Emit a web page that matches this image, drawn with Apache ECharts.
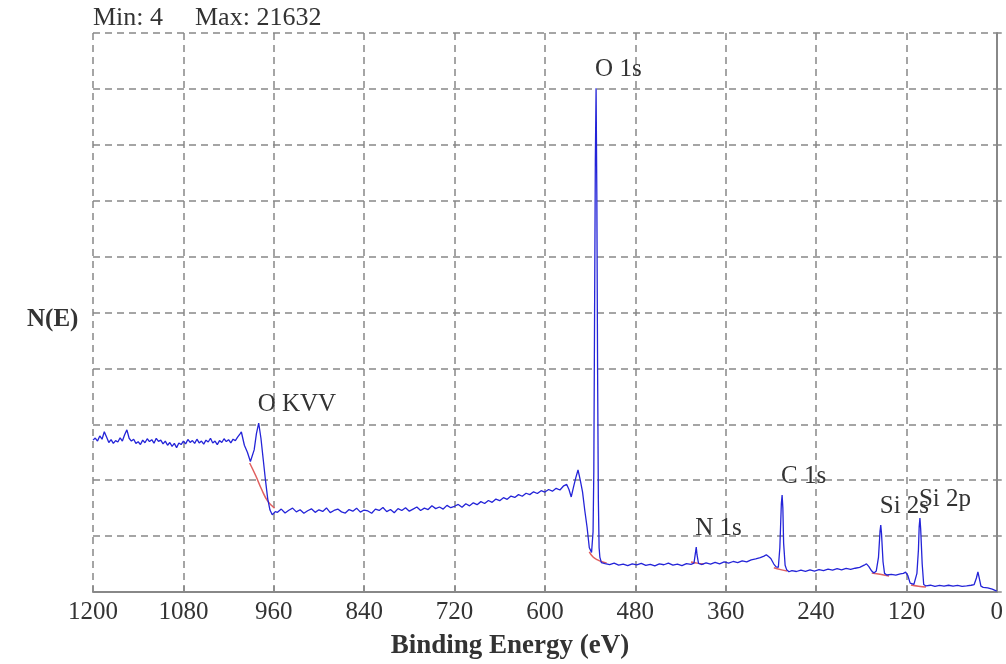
<!DOCTYPE html>
<html>
<head>
<meta charset="utf-8">
<script src="https://cdn.jsdelivr.net/npm/echarts@6/dist/echarts.min.js"></script>
<style>
  html, body { margin: 0; padding: 0; background: #fff; }
  #chart { width: 1006px; height: 664px; }
</style>
</head>
<body>
<div id="chart"></div>
<script>
// survey spectrum, [binding energy (eV), counts]
var highRegion = [
  [1200,6520],[1197,6610],[1194,6480],[1191,6700],[1188,6560],[1185,6880],[1182,6650],[1179,6420],
  [1176,6540],[1173,6380],[1170,6500],[1167,6440],[1164,6620],[1161,6480],[1158,6750],[1155,6960],
  [1152,6600],[1149,6480],[1146,6560],[1143,6380],[1140,6450],[1137,6330],[1134,6520],[1131,6410],
  [1128,6580],[1125,6460],[1122,6540],[1119,6390],[1116,6600],[1113,6470],[1110,6520],[1107,6360],
  [1104,6480],[1101,6300],[1098,6420],[1095,6250],[1092,6380],[1089,6200],[1086,6400],[1083,6330],
  [1080,6480],[1077,6360],[1074,6550],[1071,6420],[1068,6500],[1065,6380],[1062,6560],[1059,6400],
  [1056,6480],[1053,6350],[1050,6520],[1047,6440],[1044,6600],[1041,6400],[1038,6480],[1035,6330],
  [1032,6500],[1029,6420],[1026,6580],[1023,6460],[1020,6540],[1017,6400],[1014,6560],[1011,6500],
  [1008,6650],[1005,6780],[1003,6870],[999,6300],[995,6000],[991,5600],[989,5560],[986,6100],
  [983,6800],[980,7255],[977,6600],[974,5700],[971,4800],[968,4000],[965,3520],[962,3320],[958,3450]
];
var midRegion = [
  [955,3420],[950,3560],[945,3390],[940,3510],[935,3600],[930,3440],[925,3530],[920,3380],
  [915,3490],[910,3570],[905,3420],[900,3530],[895,3460],[890,3610],[885,3410],[880,3500],
  [875,3560],[870,3440],[865,3390],[860,3540],[855,3470],[850,3600],[845,3430],[840,3520],
  [835,3480],[830,3380],[825,3560],[820,3500],[815,3630],[810,3450],[805,3540],[800,3400],
  [795,3580],[790,3500],[785,3620],[780,3470],[775,3560],[770,3650],[765,3500],[760,3600],
  [755,3540],[750,3700],[745,3580],[740,3650],[735,3560],[730,3720],[725,3620],[720,3680],
  [715,3760],[710,3640],[705,3790],[700,3700],[695,3830],[690,3750],[685,3880],[680,3800],
  [675,3930],[670,3850],[665,3990],[660,3920],[655,4050],[650,3980],[645,4120],[640,4060],
  [635,4180],[630,4110],[625,4240],[620,4180],[615,4300],[610,4230],[605,4350],[600,4290],
  [595,4400],[590,4330],[585,4450],[580,4380],[575,4560],[571,4620],[568,4400],[565,4080],
  [562,4500],[559,4900],[556,5240],[553,4800],[550,4300],[547,3500],[544,2790],[541,1900],
  [538,1700],[536,2600],[535,5200],[534,12000],[533,18500],[532,21632],[531,17000],[530,9500],
  [529,4000],[528,1900],[527,1500],[525,1260]
];
var lowRegion = [
  [520,1220],[514,1180],[508,1240],[502,1150],[496,1200],[490,1130],[484,1210],[478,1160],
  [472,1230],[466,1140],[460,1190],[454,1120],[448,1210],[442,1170],[436,1240],[430,1150],
  [424,1200],[418,1130],[412,1220],[406,1190],[402,1240],[400,1700],[399,1930],[398,1600],
  [396,1230],[392,1180],[386,1250],[380,1200],[374,1270],[368,1210],[362,1290],[356,1240],
  [350,1310],[344,1260],[338,1340],[332,1290],[326,1380],[320,1420],[314,1480],[309,1540],
  [306,1600],[303,1520],[300,1440],[296,1200],[293,1080],[290,1060],[288,1900],[286,3800],
  [285,4164],[284,3600],[283,2100],[281,1150],[279,960],[276,870],[272,920],[266,880],
  [260,940],[254,890],[248,950],[242,900],[236,960],[230,920],[224,980],[218,940],
  [212,1000],[206,950],[200,1010],[194,970],[188,1020],[182,1060],[176,1150],[173,1210],
  [170,1100],[166,900],[163,820],[160,900],[157,1500],[155,2600],[154,2876],[153,2500],
  [151,1300],[149,800],[146,730],[140,760],[134,720],[128,780],[124,800],[121,850],
  [118,700],[115,380],[113,300],[110,330],[106,800],[104,1800],[103,2800],[102,3177],
  [101,2700],[99,1200],[97,320],[94,260],[88,290],[82,240],[76,280],[70,250],
  [64,290],[58,250],[52,280],[46,240],[40,260],[34,290],[30,320],[27,600],
  [25,860],[23,560],[21,250],[18,200],[12,180],[6,120],[0,40]
];
// fitted backgrounds under the peaks
var backgrounds = [
  [[992,5540],[984,5000],[976,4400],[968,3900],[959,3600]],
  [[541,1720],[536,1500],[530,1380],[524,1300],[518,1250]],
  [[406,1290],[398,1240],[389,1200]],
  [[296,1040],[287,960],[278,900]],
  [[166,820],[155,760],[143,690]],
  [[114,300],[104,250],[94,215]]
];
var peaks = [
  { name: 'O 1s', be: 532, counts: 21632 },
  { name: 'O KVV', be: 980, counts: 7255 },
  { name: 'N 1s', be: 399, counts: 1930 },
  { name: 'C 1s', be: 285, counts: 4164 },
  { name: 'Si 2s', be: 154, counts: 2876 },
  { name: 'Si 2p', be: 102, counts: 3177 }
];
var xTicks = { min: 0, max: 1200, step: 120 };
var yTicks = { min: 0, max: 24000, step: 2400 };

var serif = '"Liberation Serif", "DejaVu Serif", serif';
var chart = echarts.init(document.getElementById('chart'));

var series = [{
  type: 'line',
  data: highRegion.concat(midRegion, lowRegion),
  showSymbol: false,
  lineStyle: { color: '#2424d8', width: 1.3 },
  z: 3
}];
backgrounds.forEach(function (seg) {
  series.push({
    type: 'line',
    data: seg,
    showSymbol: false,
    smooth: true,
    lineStyle: { color: '#e06060', width: 1.5 },
    z: 2
  });
});

chart.setOption({
  animation: false,
  grid: { left: 93, right: 8, top: 33, bottom: 72 },
  xAxis: {
    type: 'value', inverse: true,
    min: xTicks.min, max: xTicks.max, interval: xTicks.step,
    axisLine: { lineStyle: { color: '#888', width: 2 } },
    axisTick: { inside: true, length: 6, lineStyle: { color: '#888', width: 1.5 } },
    axisLabel: {
      fontFamily: serif, fontSize: 25, color: '#333', margin: 8,
      formatter: function (v) { return String(v); }
    },
    splitLine: { show: true, lineStyle: { color: '#888', width: 1.5, type: [7, 5] } }
  },
  yAxis: {
    type: 'value',
    min: yTicks.min, max: yTicks.max, interval: yTicks.step,
    axisLine: { show: true, lineStyle: { color: '#888', width: 2 } },
    axisTick: { show: true, inside: true, length: 5, lineStyle: { color: '#888', width: 1.5 } },
    axisLabel: { show: false },
    splitLine: { show: true, lineStyle: { color: '#888', width: 1.5, type: [7, 5] } }
  },
  series: series
});

// text: min/max, axis titles and peak names
var texts = [
  { text: 'Min: 4', x: 93, y: 18, size: 26, weight: 'normal', align: 'left' },
  { text: 'Max: 21632', x: 195, y: 18, size: 26, weight: 'normal', align: 'left' },
  { text: 'N(E)', x: 27, y: 320, size: 25, weight: 'bold', align: 'left' },
  { text: 'Binding Energy (eV)', x: 510, y: 646, size: 27, weight: 'bold', align: 'center' }
];
peaks.forEach(function (p) {
  var pt = chart.convertToPixel({ gridIndex: 0 }, [p.be, p.counts]);
  texts.push({ text: p.name, x: pt[0] - 1, y: pt[1] - 19, size: 25, weight: 'normal', align: 'left' });
});

chart.setOption({
  graphic: texts.map(function (t) {
    return {
      type: 'text',
      x: t.x, y: t.y,
      z: 10,
      style: {
        text: t.text,
        fontFamily: serif,
        fontSize: t.size,
        fontWeight: t.weight,
        fill: '#333',
        textAlign: t.align,
        textVerticalAlign: 'middle'
      }
    };
  })
});
</script>
</body>
</html>
